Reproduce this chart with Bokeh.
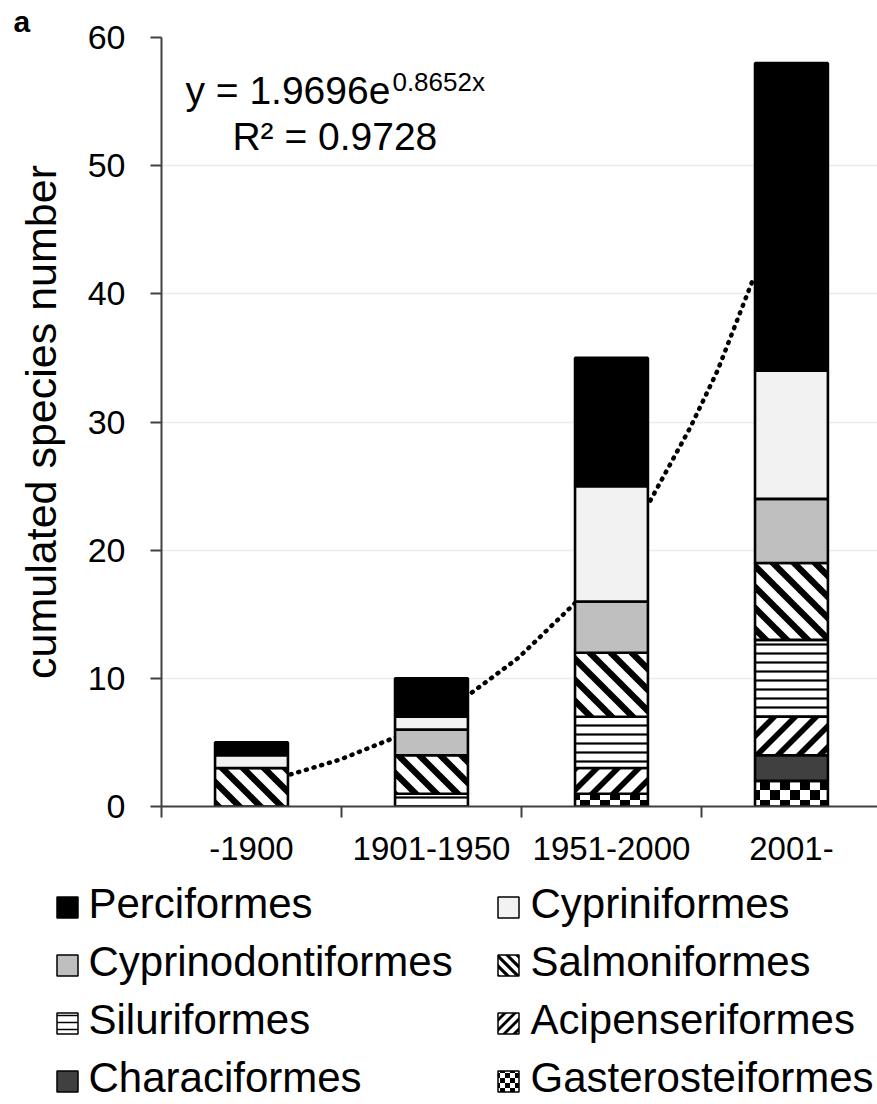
import base64
from bokeh.plotting import figure
from bokeh.models import Range1d, FixedTicker, Label, Grid, ImageURLTexture, ColumnDataSource, Title
from bokeh.layouts import column
from bokeh.embed import file_html
from bokeh.resources import INLINE
from bokeh.core.properties import value

# ---------------- data ----------------
periods = ["-1900", "1901-1950", "1951-2000", "2001-"]
gasterosteiformes = [0, 0, 1, 2]
characiformes = [0, 0, 0, 2]
acipenseriformes = [0, 0, 2, 3]
siluriformes = [0, 1, 4, 6]
salmoniformes = [3, 3, 5, 6]
cyprinodontiformes = [0, 2, 4, 5]
cypriniformes = [1, 1, 9, 10]
perciformes = [1, 3, 10, 24]

# stacking order, bottom to top
orders = ["Gasterosteiformes", "Characiformes", "Acipenseriformes", "Siluriformes",
          "Salmoniformes", "Cyprinodontiformes", "Cypriniformes", "Perciformes"]
# legend order (row by row, two columns)
legend_order = ["Perciformes", "Cypriniformes", "Cyprinodontiformes", "Salmoniformes",
                "Siluriformes", "Acipenseriformes", "Characiformes", "Gasterosteiformes"]

# dotted exponential trend line
trend_x = [1.217, 1.494, 1.8, 2.206, 2.483, 2.8, 3.217, 3.439, 3.589, 3.783]
trend_y = [2.5, 3.67, 5.4, 8.7, 11.6, 15.9, 23.9, 29.6, 34.0, 41.0]

equation_text = "y = 1.9696e"
exponent_text = "0.8652x"
r2_text = "R² = 0.9728"
y_label = "cumulated species number"
panel_letter = "a"

# ---------------- fill textures ----------------
FONT = "Liberation Sans"


def _svg_url(n, shapes):
    svg = ('<svg xmlns="http://www.w3.org/2000/svg" width="%d" height="%d" '
           'viewBox="0 0 %d %d" shape-rendering="crispEdges">%s</svg>' % (n, n, n, n, shapes))
    return "data:image/svg+xml;base64," + base64.b64encode(svg.encode()).decode()


def checker_texture(n):
    h = n // 2
    shapes = ('<rect x="0" y="0" width="%d" height="%d" fill="#000"/>'
              '<rect x="%d" y="%d" width="%d" height="%d" fill="#000"/>' % (h, h, h, h, h, h))
    return ImageURLTexture(url=_svg_url(n, shapes))


def stripe_texture(n, a, mirror):
    polys = [[(0, 0), (a, 0), (n, n - a), (n, n), (n - a, n), (0, a)],
             [(n - a, 0), (n, 0), (n, a)],
             [(0, n - a), (0, n), (a, n)]]
    shapes = ""
    for poly in polys:
        pts = " ".join("%g,%g" % ((n - x) if mirror else x, y) for x, y in poly)
        shapes += '<polygon points="%s" fill="#000"/>' % pts
    svg = ('<svg xmlns="http://www.w3.org/2000/svg" width="%d" height="%d" '
           'viewBox="0 0 %d %d">%s</svg>' % (n, n, n, n, shapes))
    return ImageURLTexture(url="data:image/svg+xml;base64," + base64.b64encode(svg.encode()).decode())


BAR_EXTRA = {"checker": checker_texture(20),
             "back": stripe_texture(21, 4.5, False),
             "fwd": stripe_texture(21, 4.0, True)}
LEG_EXTRA = {"checker": checker_texture(10),
             "back": stripe_texture(10, 2.2, False),
             "fwd": stripe_texture(10, 2.0, True)}

bar_style = {
    "Gasterosteiformes": dict(fill="white", hatch=value("checker"), scale=20, weight=1),
    "Characiformes": dict(fill="#404040", hatch=None, scale=12, weight=1),
    "Acipenseriformes": dict(fill="white", hatch=value("fwd"), scale=21, weight=1),
    "Siluriformes": dict(fill="white", hatch="-", scale=9, weight=2.2),
    "Salmoniformes": dict(fill="white", hatch=value("back"), scale=21, weight=1),
    "Cyprinodontiformes": dict(fill="#bfbfbf", hatch=None, scale=12, weight=1),
    "Cypriniformes": dict(fill="#f2f2f2", hatch=None, scale=12, weight=1),
    "Perciformes": dict(fill="black", hatch=None, scale=12, weight=1),
}
legend_style = {
    "Gasterosteiformes": dict(scale=10, weight=1),
    "Characiformes": dict(scale=10, weight=1),
    "Acipenseriformes": dict(scale=10, weight=1),
    "Siluriformes": dict(scale=7, weight=1.5),
    "Salmoniformes": dict(scale=10, weight=1),
    "Cyprinodontiformes": dict(scale=10, weight=1),
    "Cypriniformes": dict(scale=10, weight=1),
    "Perciformes": dict(scale=10, weight=1),
}

# ---------------- main chart ----------------
x_pos = list(range(1, len(periods) + 1))
source = ColumnDataSource(dict(
    x=x_pos,
    Gasterosteiformes=gasterosteiformes,
    Characiformes=characiformes,
    Acipenseriformes=acipenseriformes,
    Siluriformes=siluriformes,
    Salmoniformes=salmoniformes,
    Cyprinodontiformes=cyprinodontiformes,
    Cypriniformes=cypriniformes,
    Perciformes=perciformes,
))

p = figure(width=877, height=878, output_backend="svg", toolbar_location=None,
           x_range=Range1d(0.5, 4.478), y_range=Range1d(0, 60),
           min_border_left=161, min_border_right=0, min_border_top=37, min_border_bottom=72)
p.title = Title(text=panel_letter, align="left", offset=-148, standoff=0,
                text_font=FONT, text_font_size="30px", text_font_style="bold",
                text_color="black")
p.outline_line_color = None
p.background_fill_color = "white"
p.border_fill_color = "white"
p.xgrid.visible = False
p.ygrid.grid_line_color = "#ececec"
p.ygrid.grid_line_width = 1.5
p.ygrid.ticker = FixedTicker(ticks=[10, 20, 30, 40, 50])
p.add_layout(Grid(dimension=1, ticker=FixedTicker(ticks=[60]),
                  grid_line_color="#a6a6a6", grid_line_width=2))

# y axis
p.yaxis.ticker = FixedTicker(ticks=[0, 10, 20, 30, 40, 50, 60], minor_ticks=[])
p.yaxis.axis_line_color = "#404040"
p.yaxis.axis_line_width = 2
p.yaxis.major_tick_line_color = "#404040"
p.yaxis.major_tick_line_width = 2
p.yaxis.major_tick_out = 11
p.yaxis.major_tick_in = 0
p.yaxis.major_label_standoff = 25
p.yaxis.major_label_text_font = FONT
p.yaxis.major_label_text_font_size = "34px"
p.yaxis.major_label_text_color = "black"
p.yaxis.axis_label = y_label
p.yaxis.axis_label_text_font = FONT
p.yaxis.axis_label_text_font_size = "43px"
p.yaxis.axis_label_text_font_style = "normal"
p.yaxis.axis_label_text_color = "black"
p.yaxis.axis_label_standoff = 20

# x axis: labels at bar centres, tick marks between categories
p.xaxis.ticker = FixedTicker(ticks=x_pos, minor_ticks=[0.5, 1.5, 2.5, 3.5, 4.5])
p.xaxis.major_label_overrides = {x: lab for x, lab in zip(x_pos, periods)}
p.xaxis.axis_line_color = "#404040"
p.xaxis.axis_line_width = 2
p.xaxis.major_tick_out = 0
p.xaxis.major_tick_in = 0
p.xaxis.minor_tick_out = 11
p.xaxis.minor_tick_in = 0
p.xaxis.minor_tick_line_color = "#404040"
p.xaxis.minor_tick_line_width = 2
p.xaxis.major_label_standoff = 19
p.xaxis.major_label_text_font = FONT
p.xaxis.major_label_text_font_size = "33px"
p.xaxis.major_label_text_color = "black"

# trend line (behind bars)
p.line(trend_x, trend_y, line_color="black", line_width=4.5, line_dash="1 7", line_cap="round")

# stacked bars
p.vbar_stack(orders, x="x", width=0.405, source=source,
             fill_color=[bar_style[o]["fill"] for o in orders],
             hatch_pattern=[bar_style[o]["hatch"] for o in orders],
             hatch_scale=[bar_style[o]["scale"] for o in orders],
             hatch_weight=[bar_style[o]["weight"] for o in orders],
             hatch_color="black", hatch_extra=BAR_EXTRA,
             line_color="black", line_width=2.6)

# equation annotation
p.add_layout(Label(x=0.633, y=55.9, text=equation_text, text_font=FONT,
                   text_font_size="39px", text_color="black", text_baseline="alphabetic"))
p.add_layout(Label(x=1.783, y=56.5, text=exponent_text, text_font=FONT,
                   text_font_size="26px", text_color="black", text_baseline="alphabetic"))
p.add_layout(Label(x=0.894, y=52.3, text=r2_text, text_font=FONT,
                   text_font_size="39px", text_color="black", text_baseline="alphabetic"))

# ---------------- legend ----------------
LEG_H = 1104 - 878
lg = figure(width=877, height=LEG_H, output_backend="svg", toolbar_location=None,
            x_range=Range1d(0, 877), y_range=Range1d(LEG_H, 0),
            min_border=0, x_axis_location=None, y_axis_location=None)
lg.outline_line_color = None
lg.grid.visible = False
lg.background_fill_color = "white"
lg.border_fill_color = "white"
for fig in (p, lg):
    try:
        fig.frame_align = False
    except AttributeError:
        pass

col_swatch = [67, 508]
col_text = [88, 530]
row_first, row_step = 29, 58
for i, name in enumerate(legend_order):
    r, c = divmod(i, 2)
    st = bar_style[name]
    ls = legend_style[name]
    yc = row_first + r * row_step
    lg.rect(x=[col_swatch[c]], y=[yc], width=21, height=21,
            fill_color=st["fill"], hatch_pattern=st["hatch"],
            hatch_scale=ls["scale"], hatch_weight=ls["weight"], hatch_color="black",
            hatch_extra=LEG_EXTRA, line_color="black", line_width=1.5)
    lg.text(x=[col_text[c]], y=[yc - 4], text=[name], text_font=value(FONT),
            text_font_size="42px", text_color="black", text_baseline="alphabetic")

layout = column(p, lg, spacing=0)
open("out.html", "w").write(file_html(layout, INLINE))
